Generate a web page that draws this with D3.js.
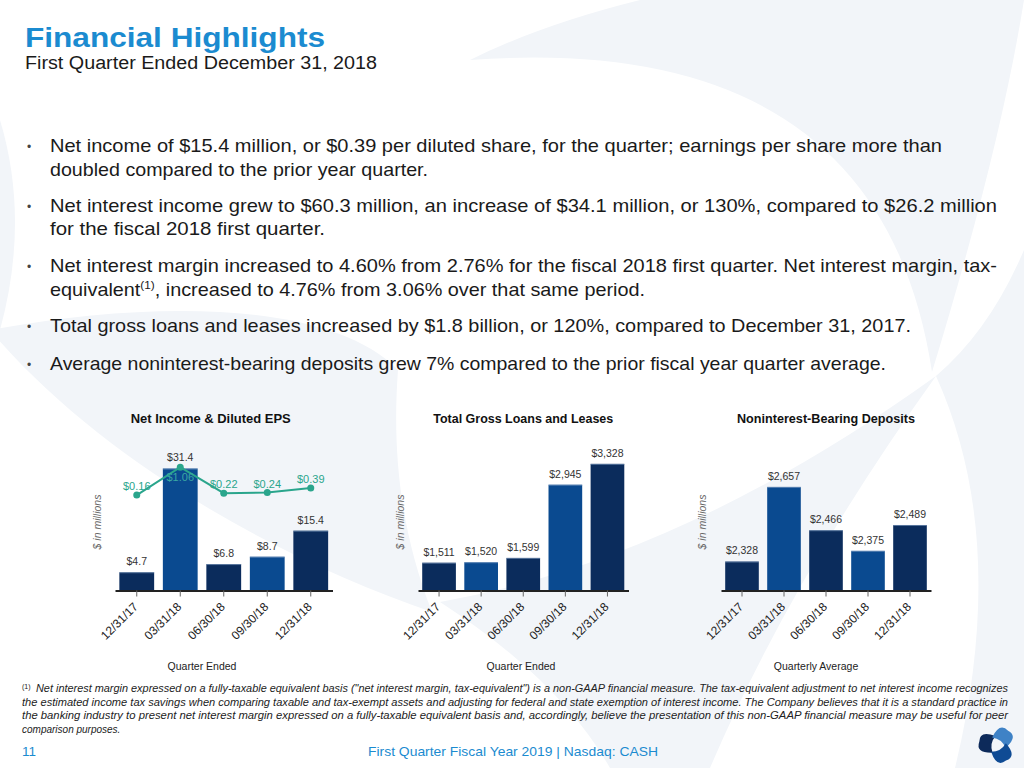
<!DOCTYPE html>
<html><head><meta charset="utf-8">
<script src="https://cdn.jsdelivr.net/npm/d3@7"></script>
<style>body{margin:0;background:#fff}svg{display:block}</style>
</head>
<body><svg id="c" width="1024" height="768"></svg>
<script>
// ---------- DATA ----------
const quarters = ["12/31/17", "03/31/18", "06/30/18", "09/30/18", "12/31/18"];
const netIncome = [4.7, 31.4, 6.8, 8.7, 15.4];
const dilutedEPS = [0.16, 1.06, 0.22, 0.24, 0.39];
const grossLoans = [1511, 1520, 1599, 2945, 3328];
const nibDeposits = [2328, 2657, 2466, 2375, 2489];
const chartTitles = ["Net Income & Diluted EPS", "Total Gross Loans and Leases", "Noninterest-Bearing Deposits"];
const axisTitles = ["Quarter Ended", "Quarter Ended", "Quarterly Average"];
const yAxisLabel = "$ in millions";

const bullets = [
  ["Net income of $15.4 million, or $0.39 per diluted share, for the quarter; earnings per share more than",
   "doubled compared to the prior year quarter."],
  ["Net interest income grew to $60.3 million, an increase of $34.1 million, or 130%, compared to $26.2 million",
   "for the fiscal 2018 first quarter."],
  ["Net interest margin increased to 4.60% from 2.76% for the fiscal 2018 first quarter. Net interest margin, tax-",
   "equivalent|(1)|, increased to 4.76% from 3.06% over that same period."],
  ["Total gross loans and leases increased by $1.8 billion, or 120%, compared to December 31, 2017."],
  ["Average noninterest-bearing deposits grew 7% compared to the prior fiscal year quarter average."]
];
const footnote = [
  "Net interest margin expressed on a fully-taxable equivalent basis (\"net interest margin, tax-equivalent\") is a non-GAAP financial measure. The tax-equivalent adjustment to net interest income recognizes",
  "the estimated income tax savings when comparing taxable and tax-exempt assets and adjusting for federal and state exemption of interest income. The Company believes that it is a standard practice in",
  "the banking industry to present net interest margin expressed on a fully-taxable equivalent basis and, accordingly, believe the presentation of this non-GAAP financial measure may be useful for peer",
  "comparison purposes."
];

// ---------- STYLE ----------
const FONT = "'Liberation Sans', Arial, sans-serif";
const DARK = "#0b2c5c", MED = "#0a4a90", TEAL = "#2aa58c", BLUE = "#1b8bd0", BG = "#f2f5f9";
const svg = d3.select("#c").style("font-family", FONT);

// ---------- BACKGROUND WATERMARK ----------
const bg = svg.append("g").attr("fill", BG);
bg.append("path").attr("d", "M -10,330 C 150,300 330,300 398,370 C 392,450 400,530 432,612 C 280,560 100,460 -10,330 Z");
bg.append("path").attr("d", "M 0,120 Q 30,220 0,330 Z");
bg.append("path").attr("d", "M 470,60 Q 880,30 932,372 Q 1000,150 1024,0 L 640,0 Q 540,25 470,60 Z");
bg.append("path").attr("d", "M 936,376 Q 1010,540 955,768 L 1024,768 L 1024,250 Q 990,330 936,376 Z");
bg.append("path").attr("d", "M 440,602 Q 680,560 936,376 Q 790,580 710,768 L 610,768 Q 560,680 440,602 Z");

// ---------- HEADER ----------
svg.append("text").attr("x", 25).attr("y", 47).attr("font-size", 27).attr("font-weight", "bold")
  .attr("fill", BLUE).attr("textLength", 300).attr("lengthAdjust", "spacingAndGlyphs").text("Financial Highlights");
svg.append("text").attr("x", 25).attr("y", 69).attr("font-size", 18).attr("fill", "#1a1a1a")
  .attr("textLength", 352).attr("lengthAdjust", "spacingAndGlyphs").text("First Quarter Ended December 31, 2018");

// bullets
const lineBase = [[151.5, 175.5], [211.5, 235], [272, 295.5], [332], [369.5]];
const lineLen = [[892, 378], [947, 275], [947, 595], [861], [836]];
bullets.forEach((b, i) => {
  svg.append("text").attr("x", 27).attr("y", lineBase[i][0] - 1).attr("font-size", 12).attr("fill", "#444").text("•");
  b.forEach((ln, j) => {
    const t = svg.append("text").attr("x", 50).attr("y", lineBase[i][j]).attr("font-size", 18.5)
      .attr("fill", "#1a1a1a").attr("textLength", lineLen[i][j]).attr("lengthAdjust", "spacingAndGlyphs");
    const parts = ln.split("|");
    if (parts.length === 1) t.text(ln);
    else {
      t.append("tspan").text(parts[0]);
      t.append("tspan").attr("font-size", 11).attr("dy", -7).text(parts[1]);
      t.append("tspan").attr("dy", 7).text(parts[2]);
    }
  });
});

// ---------- CHARTS ----------
const baseY = 590.5, topY = 454.5;
const charts = [
  { values: netIncome, domain: [0, 35], range: [115, 332.5], fmt: v => "$" + d3.format(".1f")(v), ylx: 100.5 },
  { values: grossLoans, domain: [1000, 3500], range: [418, 628.5], fmt: v => "$" + d3.format(",")(v), ylx: 403.5 },
  { values: nibDeposits, domain: [2200, 2800], range: [721, 931], fmt: v => "$" + d3.format(",")(v), ylx: 706 }
];
const titleLens = [160, 180, 178];

charts.forEach((c, ci) => {
  const g = svg.append("g");
  const x = d3.scaleBand().domain(quarters).range(c.range).paddingInner(0.2).paddingOuter(0.1);
  const y = d3.scaleLinear().domain(c.domain).range([baseY, topY]);
  const cx = (c.range[0] + c.range[1]) / 2;

  g.append("text").attr("x", cx + (ci === 0 ? -13 : 0)).attr("y", 422.5)
    .attr("text-anchor", "middle").attr("font-size", 12).attr("font-weight", "bold").attr("fill", "#111")
    .attr("textLength", titleLens[ci]).attr("lengthAdjust", "spacingAndGlyphs").text(chartTitles[ci]);

  // bars
  const data = quarters.map((q, i) => ({ q, v: c.values[i], i }));
  g.selectAll("rect.bar").data(data).enter().append("rect").attr("class", "bar")
    .attr("x", d => x(d.q)).attr("width", x.bandwidth())
    .attr("y", d => y(d.v)).attr("height", d => baseY - y(d.v))
    .attr("fill", d => d.i % 2 ? MED : DARK);
  g.selectAll("line.cap").data(data).enter().append("line").attr("class", "cap")
    .attr("x1", d => x(d.q)).attr("x2", d => x(d.q) + x.bandwidth())
    .attr("y1", d => y(d.v) + 0.5).attr("y2", d => y(d.v) + 0.5)
    .attr("stroke", "#8aa6c8").attr("stroke-width", 1).attr("opacity", 0.6);
  g.selectAll("text.val").data(data).enter().append("text").attr("class", "val")
    .attr("x", d => x(d.q) + x.bandwidth() / 2).attr("y", d => y(d.v) - 7)
    .attr("text-anchor", "middle").attr("font-size", 10.5).attr("fill", "#333").text(d => c.fmt(d.v));

  // x axis
  const ax = g.append("g").attr("transform", `translate(0,${baseY})`)
    .call(d3.axisBottom(x).tickSize(6).tickSizeOuter(0));
  ax.select(".domain").attr("stroke", "#222").attr("stroke-width", 2);
  ax.selectAll(".tick line").attr("stroke", "#666");
  ax.selectAll(".tick text").attr("x", 0).attr("y", 0).attr("dy", 0)
    .attr("transform", "translate(2,17) rotate(-45)").attr("text-anchor", "end")
    .attr("font-size", 12).attr("font-family", FONT).attr("fill", "#222");

  // y label
  g.append("text").attr("transform", `translate(${c.ylx},522) rotate(-90)`).attr("text-anchor", "middle")
    .attr("font-size", 10.5).attr("font-style", "italic").attr("fill", "#666").text(yAxisLabel);

  // axis title
  const atx = [202, 521, 816][ci];
  g.append("text").attr("x", atx).attr("y", 669.5).attr("text-anchor", "middle")
    .attr("font-size", 10.5).attr("fill", "#222").text(axisTitles[ci]);

  // EPS line on first chart
  if (ci === 0) {
    const ye = d3.scaleLinear().domain([0, 1.5]).range([500, 453.5]);
    const pts = quarters.map((q, i) => ({ q, v: dilutedEPS[i], i }));
    const mi = d3.maxIndex(dilutedEPS);
    g.append("path").datum(pts).attr("fill", "none").attr("stroke", TEAL).attr("stroke-width", 2)
      .attr("d", d3.line().x(d => x(d.q) + x.bandwidth() / 2).y(d => ye(d.v)));
    g.selectAll("circle.eps").data(pts).enter().append("circle").attr("class", "eps")
      .attr("cx", d => x(d.q) + x.bandwidth() / 2).attr("cy", d => ye(d.v)).attr("r", 3.5).attr("fill", TEAL);
    g.selectAll("text.eps").data(pts).enter().append("text").attr("class", "eps")
      .attr("x", d => x(d.q) + x.bandwidth() / 2).attr("y", d => ye(d.v) + (d.i === mi ? 14 : -5))
      .attr("text-anchor", "middle").attr("font-size", 11).attr("fill", d => d.i === mi ? "#3aa7a3" : TEAL)
      .text(d => "$" + d3.format(".2f")(d.v));
  }
});

// ---------- FOOTNOTE ----------
const fnBase = [692, 705.5, 719, 732.5];
const fnLen = [972, 986, 986, 82];
footnote.forEach((ln, i) => {
  const t = svg.append("text").attr("y", fnBase[i]).attr("font-size", 10).attr("font-style", "italic").attr("fill", "#222");
  if (i === 0) {
    svg.append("text").attr("x", 22).attr("y", fnBase[i] - 3).attr("font-size", 7).attr("fill", "#222").text("(1)");
    t.attr("x", 36);
  } else t.attr("x", 22);
  if (i < 3) t.attr("textLength", fnLen[i]).attr("lengthAdjust", "spacingAndGlyphs");
  t.text(ln);
});

// ---------- FOOTER ----------
svg.append("text").attr("x", 22).attr("y", 756).attr("font-size", 13.5).attr("fill", BLUE).text("11");
svg.append("text").attr("x", 513).attr("y", 756).attr("font-size", 13.5).attr("fill", BLUE)
  .attr("text-anchor", "middle").attr("textLength", 290).attr("lengthAdjust", "spacingAndGlyphs")
  .text("First Quarter Fiscal Year 2019 | Nasdaq: CASH");

// logo
const logo = svg.append("g").attr("transform", "translate(997,745)");
const petal = "M 3,-8.5 Q 20,-12 18,0 Q 20,12 3,8.5 Q 8,0 3,-8.5 Z";
[[190, "#0d2a5a"], [-52, "#3f82c6"], [60, "#0f4b94"]].forEach(([a, col]) => {
  logo.append("path").attr("d", petal).attr("fill", col).attr("transform", `rotate(${a})`);
});
</script>
</body></html>
